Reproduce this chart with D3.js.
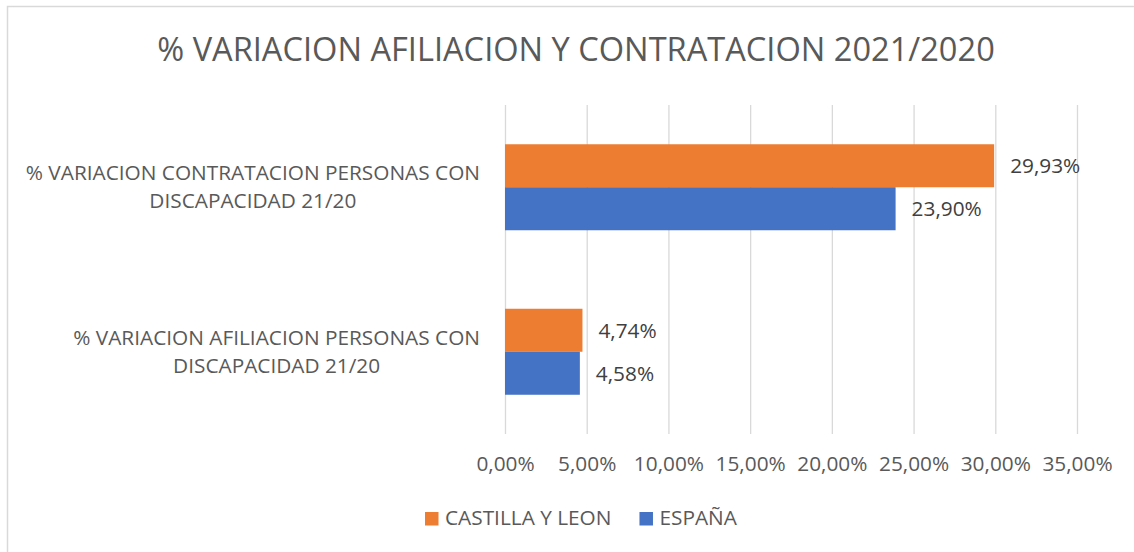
<!DOCTYPE html>
<html><head><meta charset="utf-8">
<script src="https://cdn.jsdelivr.net/npm/d3@7"></script>
<style>
html,body{margin:0;padding:0;background:#fff;}
text{font-family:"Open Sans",sans-serif;}
</style></head>
<body><svg id="c" width="1134" height="552"></svg>
<script>
const title = "% VARIACION AFILIACION Y CONTRATACION 2021/2020";
const categories = [
  ["% VARIACION CONTRATACION PERSONAS CON", "DISCAPACIDAD 21/20"],
  ["% VARIACION AFILIACION PERSONAS CON", "DISCAPACIDAD 21/20"]
];
const seriesNames = ["CASTILLA Y LEON", "ESPAÑA"];
const seriesColors = ["#ED7D31", "#4472C4"];
const castillaValues = [29.93, 4.74];
const espanaValues = [23.90, 4.58];
const tickValues = [0, 5, 10, 15, 20, 25, 30, 35];

const fmt = v => v.toFixed(2).replace(".", ",") + "%";
const svg = d3.select("#c");
const W = 1134, H = 552;
const m = {left: 505, right: 57, top: 105, bottom: 118};
const fs = "20.8px";

// chart border
svg.append("rect").attr("x", 7.5).attr("y", 6.5).attr("width", W + 10).attr("height", H + 10)
  .attr("fill", "none").attr("stroke", "#d9d9d9").attr("stroke-width", 1.5);

svg.append("text").attr("x", 576).attr("y", 61).attr("text-anchor", "middle")
  .attr("fill", "#595959").style("font-size", "32.6px").text(title);

const x = d3.scaleLinear().domain([0, 35]).range([m.left, W - m.right]);
const y = d3.scaleBand().domain(d3.range(categories.length)).range([m.top, H - m.bottom]).paddingInner(0).paddingOuter(0);
const yInner = d3.scaleBand().domain(d3.range(seriesNames.length)).range([0, 86]);

// gridlines
const xAxis = d3.axisBottom(x).tickValues(tickValues).tickSize(-(H - m.bottom - m.top)).tickFormat(d => fmt(d)).tickPadding(22);
const gx = svg.append("g").attr("transform", `translate(0,${H - m.bottom})`).call(xAxis);
gx.select(".domain").remove();
gx.selectAll(".tick line").attr("stroke", "#d9d9d9").attr("stroke-width", 1.3);
gx.selectAll(".tick text").attr("fill", "#595959").style("font-size", fs).attr("dy", "0.71em").attr("y", 0)
  .attr("transform", "translate(0,22)");

const values = [castillaValues, espanaValues];
const groupOffset = (y.bandwidth() - 86) / 2;

values.forEach((vals, si) => {
  const g = svg.append("g");
  g.selectAll("rect").data(vals).join("rect")
    .attr("x", x(0))
    .attr("y", (d, i) => y(i) + groupOffset + yInner(si))
    .attr("width", d => x(d) - x(0))
    .attr("height", yInner.bandwidth())
    .attr("fill", seriesColors[si]);
  g.selectAll("text").data(vals).join("text")
    .attr("x", d => x(d) + 16)
    .attr("y", (d, i) => y(i) + groupOffset + yInner(si) + yInner.bandwidth() / 2)
    .attr("dy", "0.36em")
    .attr("fill", "#404040").style("font-size", fs)
    .text(d => fmt(d));
});

// category labels
categories.forEach((lines, i) => {
  const t = svg.append("text").attr("fill", "#595959").style("font-size", fs).attr("text-anchor", "middle");
  const cy = y(i) + y.bandwidth() / 2;
  lines.forEach((ln, j) => {
    t.append("tspan").attr("y", cy - 7 + j * 28).text(ln);
  });
  let maxW = 0;
  t.selectAll("tspan").each(function(){ maxW = Math.max(maxW, this.getComputedTextLength()); });
  t.selectAll("tspan").attr("x", 480 - maxW / 2);
});

// legend
const lg = svg.append("g");
let lx = 425;
seriesNames.forEach((n, i) => {
  lg.append("rect").attr("x", lx).attr("y", 512).attr("width", 13.5).attr("height", 13.5).attr("fill", seriesColors[i]);
  const t = lg.append("text").attr("x", lx + 20).attr("y", 525).attr("fill", "#595959").style("font-size", fs).text(n);
  lx = lx + 20 + t.node().getComputedTextLength() + 28;
});
</script></body></html>
